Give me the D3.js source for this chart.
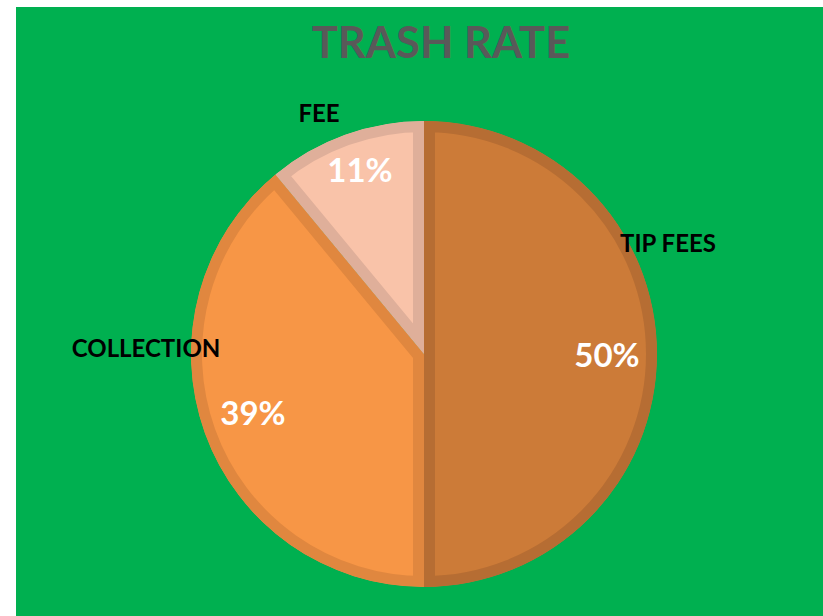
<!DOCTYPE html>
<html><head><meta charset="utf-8">
<script src="https://cdn.jsdelivr.net/npm/d3@7/dist/d3.min.js"></script>
<style>body{margin:0;background:#fff}svg{display:block}</style>
</head><body>
<svg id="c" width="823" height="616"></svg>
<script>
const categories = ["TIP FEES", "COLLECTION", "FEE"];
const values = [50, 39, 11];
const fills = ["#CC7B38", "#F79646", "#F9C3A9"];
const borders = ["#B66D33", "#E0873F", "#DFAF9A"];
const title = "TRASH RATE";

const svg = d3.select("#c");
svg.append("rect").attr("x",16).attr("y",7).attr("width",807).attr("height",609).attr("fill","#00B050");
svg.append("text").attr("x",441).attr("y",58).attr("text-anchor","middle")
  .attr("font-family","Lato, 'Open Sans', sans-serif").attr("font-weight","bold")
  .attr("font-size",43.5).attr("fill","#595959").text(title);

const cx=424, cy=354, R=233, bw=11;
const pie = d3.pie().sort(null).value(d=>d)(values);
const arc = d3.arc().innerRadius(0).outerRadius(R);
const g = svg.append("g").attr("transform",`translate(${cx},${cy})`);
const defs = svg.append("defs");
pie.forEach((p,i)=>{
  defs.append("clipPath").attr("id","cl"+i).append("path").attr("d",arc(p));
  g.append("path").attr("d",arc(p)).attr("fill",fills[i])
   .attr("stroke",borders[i]).attr("stroke-width",bw*2).attr("stroke-linejoin","miter")
   .attr("clip-path",`url(#cl${i})`);
});

const labelPos = [[668-cx,252-cy],[146-cx,357-cy],[319-cx,122-cy]];
const pctPos = [[607-cx,367-cy],[253-cx,425-cy],[360-cx,182-cy]];
pie.forEach((p,i)=>{
  g.append("text").attr("x",labelPos[i][0]).attr("y",labelPos[i][1]).attr("text-anchor","middle")
   .attr("font-family","Lato, 'Open Sans', sans-serif").attr("font-weight","bold").attr("font-size",24)
   .attr("fill","#000").text(categories[i]);
  g.append("text").attr("x",pctPos[i][0]).attr("y",pctPos[i][1]).attr("text-anchor","middle")
   .attr("font-family","Lato, 'Open Sans', sans-serif").attr("font-weight","bold").attr("font-size",33)
   .attr("fill","#fff").text(values[i]+"%");
});
</script>
</body></html>
